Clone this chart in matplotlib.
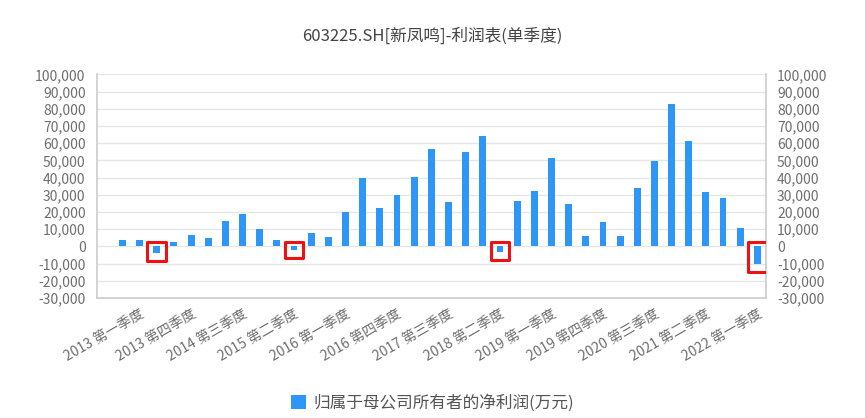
import numpy as np
import matplotlib
matplotlib.use("Agg")
import matplotlib.pyplot as plt
from matplotlib.patches import Rectangle, Patch
from matplotlib.ticker import FuncFormatter, MultipleLocator

plt.rcParams['font.family'] = ['Noto Sans CJK SC', 'DejaVu Sans']

# 季度（第一个类别为空）
quarters = [
    "2012 第三季度", "2012 第四季度",
    "2013 第一季度", "2013 第二季度", "2013 第三季度", "2013 第四季度",
    "2014 第一季度", "2014 第二季度", "2014 第三季度", "2014 第四季度",
    "2015 第一季度", "2015 第二季度", "2015 第三季度", "2015 第四季度",
    "2016 第一季度", "2016 第二季度", "2016 第三季度", "2016 第四季度",
    "2017 第一季度", "2017 第二季度", "2017 第三季度", "2017 第四季度",
    "2018 第一季度", "2018 第二季度", "2018 第三季度", "2018 第四季度",
    "2019 第一季度", "2019 第二季度", "2019 第三季度", "2019 第四季度",
    "2020 第一季度", "2020 第二季度", "2020 第三季度", "2020 第四季度",
    "2021 第一季度", "2021 第二季度", "2021 第三季度", "2021 第四季度",
    "2022 第一季度",
]
# 归属于母公司所有者的净利润(万元)
net_profit = [
    np.nan, 3500,
    3900, -3900, 2300, 6600,
    4800, 14500, 18700, 10000,
    3500, -2300, 7700, 5400,
    19900, 39600, 22400, 29900,
    40300, 56400, 26100, 54800,
    64300, -3100, 26400, 32000,
    51500, 24900, 5800, 14100,
    5800, 34200, 49600, 82600,
    61000, 31900, 28400, 10600,
    -10500,
]
label_every = 3
label_start = 2

title = "603225.SH[新凤鸣]-利润表(单季度)"
series_name = "归属于母公司所有者的净利润(万元)"

bar_color = '#2d96f6'
grey = '#6e6e6e'

fig = plt.figure(figsize=(8.65, 4.18), dpi=100)
ax = fig.add_axes([0.1118, 0.287, 0.7737, 0.535])

x = np.arange(len(quarters))
ax.bar(x, net_profit, width=0.4, color=bar_color, zorder=3)

ax.set_xlim(-0.5, len(quarters) - 0.5)
ax.set_ylim(-30000, 100000)
ax.yaxis.set_major_locator(MultipleLocator(10000))
fmt = FuncFormatter(lambda v, p: f"{int(v):,}")
ax.yaxis.set_major_formatter(fmt)
ax.grid(axis='y', color='#e6e6e6', lw=1, zorder=0)

ticks = x[label_start::label_every]
ax.set_xticks(ticks)
ax.set_xticklabels([quarters[i] for i in ticks], rotation=30, ha='right',
                   rotation_mode='anchor', fontsize=10, color=grey)
ax.tick_params(axis='x', length=0, pad=6)
ax.tick_params(axis='y', length=0, labelsize=10, labelcolor=grey, pad=8)

for side in ['left', 'right', 'bottom']:
    ax.spines[side].set_color('#cccccc')
    ax.spines[side].set_linewidth(1.2)
ax.spines['top'].set_visible(False)

ax2 = ax.twinx()
ax2.set_ylim(ax.get_ylim())
ax2.yaxis.set_major_locator(MultipleLocator(10000))
ax2.yaxis.set_major_formatter(fmt)
ax2.tick_params(axis='y', length=0, labelsize=10, labelcolor=grey, pad=8)
for side in ['left', 'right', 'bottom', 'top']:
    ax2.spines[side].set_visible(False)

# 红框标出亏损季度
for i, v in enumerate(net_profit):
    if not v < 0:
        continue
    top = 2500
    bottom = v - 4500
    ax.add_patch(Rectangle((i - 0.55, bottom), 1.1, top - bottom, fill=False,
                           edgecolor='#ee1111', lw=2.2, joinstyle='round', zorder=4))

fig.text(0.5, 0.913, title, ha='center', va='center', fontsize=12, color='#444444')

fig.legend(handles=[Patch(facecolor=bar_color, edgecolor='none', label=series_name)],
           loc='center', bbox_to_anchor=(0.5, 0.037), frameon=False, fontsize=12,
           labelcolor='#555555', handlelength=0.9, handleheight=0.9, handletextpad=0.5)

fig.savefig('out.png', dpi=100)
